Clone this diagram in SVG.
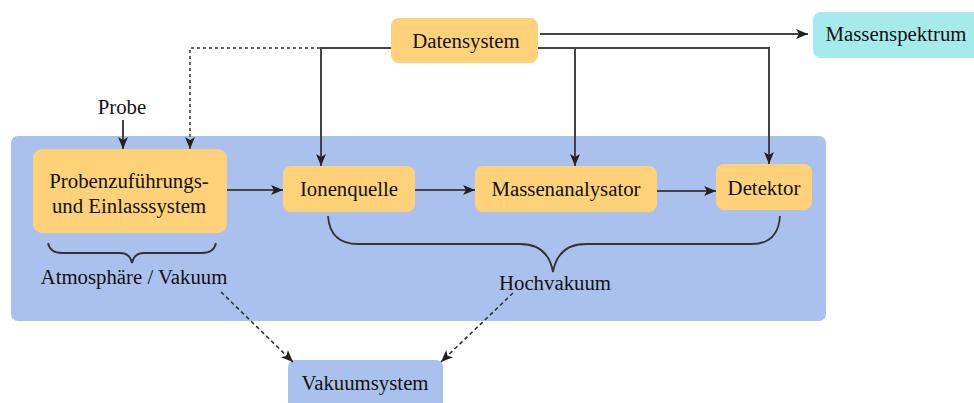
<svg xmlns="http://www.w3.org/2000/svg" width="974" height="403" viewBox="0 0 974 403">
<style>
text{font-family:"Liberation Serif","Times New Roman",serif;font-size:20.8px;fill:#111;text-anchor:middle}
.o{fill:#FFD27A}
.b{fill:#A9C1EC}
.c{fill:#A6EBEB}
.l{fill:none;stroke:#444;stroke-width:2}
.d{fill:none;stroke:#666;stroke-width:2;stroke-dasharray:3 3}
.dd{fill:none;stroke:#333;stroke-width:1.6;stroke-dasharray:4 3}
.br{fill:none;stroke:#333;stroke-width:1.8}
</style>
<defs>
<marker id="a" viewBox="0 0 12 10" refX="12" refY="5" markerWidth="12" markerHeight="10" markerUnits="userSpaceOnUse" orient="auto">
<path d="M0,0 L12,5 L0,10 L3,5 Z" fill="#222"/>
</marker>
</defs>
<g id="vakuumbereich"><rect class="b" x="11" y="136" width="815" height="185" rx="7"/></g>
<g id="datensystem"><rect class="o" x="391" y="18" width="147" height="45" rx="8"/><text x="466" y="48">Datensystem</text></g>
<g id="massenspektrum"><rect class="c" x="813" y="12" width="170" height="46" rx="8"/><text x="896" y="41">Massenspektrum</text></g>
<g id="probe"><text x="122" y="114">Probe</text></g>
<g id="probenzufuehrung"><rect class="o" x="33" y="149" width="194" height="84" rx="9"/><text x="129" y="188">Probenzuführungs-</text><text x="129" y="213">und Einlasssystem</text></g>
<g id="ionenquelle"><rect class="o" x="283" y="166" width="132" height="46" rx="8"/><text x="349" y="196">Ionenquelle</text></g>
<g id="massenanalysator"><rect class="o" x="475" y="166" width="182" height="46" rx="8"/><text x="566" y="196">Massenanalysator</text></g>
<g id="detektor"><rect class="o" x="716" y="164" width="96" height="46" rx="8"/><text x="764" y="195">Detektor</text></g>
<g id="atmosphaere"><path class="br" d="M48,243 Q50,253 62,253 L120,253 Q130,253 132,263 Q134,253 144,253 L202,253 Q214,253 216,243"/><text x="134" y="284">Atmosphäre / Vakuum</text></g>
<g id="hochvakuum"><path class="br" d="M328,216 Q330,244 358,244 L520,244 Q548,244 553,272 Q558,244 586,244 L752,244 Q778,244 780,216"/><text x="555" y="290">Hochvakuum</text></g>
<g id="vakuumsystem"><rect class="b" x="288" y="360" width="155" height="50" rx="7"/><text x="365" y="390">Vakuumsystem</text></g>
<g id="connectors">
<path class="l" d="M540,34 L808,34" marker-end="url(#a)"/>
<path class="l" d="M538,48 L769,48 L769,164" marker-end="url(#a)"/>
<path class="l" d="M575,48 L575,166" marker-end="url(#a)"/>
<path class="l" d="M391,48 L321,48 L321,166" marker-end="url(#a)"/>
<path class="d" d="M320,48 L190,48 L190,149" marker-end="url(#a)"/>
<path class="l" d="M123,120 L123,149" marker-end="url(#a)"/>
<path class="l" d="M227,190 L283,190" marker-end="url(#a)"/>
<path class="l" d="M415,190 L475,190" marker-end="url(#a)"/>
<path class="l" d="M657,191 L716,191" marker-end="url(#a)"/>
<path class="dd" d="M221,292 L293,362" marker-end="url(#a)"/>
<path class="dd" d="M513,293 L441,362" marker-end="url(#a)"/>
</g>
</svg>
